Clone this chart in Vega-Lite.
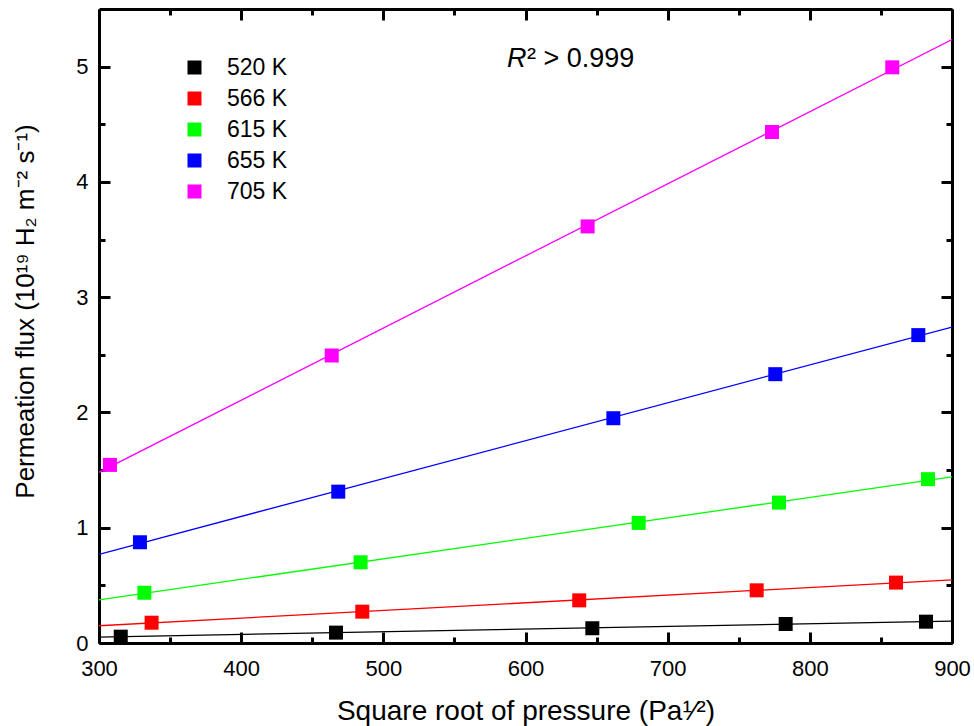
{
  "$schema": "https://vega.github.io/schema/vega-lite/v6.json",
  "width": 853,
  "height": 634,
  "autosize": "none",
  "padding": {"left": 99, "top": 9, "right": 22, "bottom": 83},
  "background": "white",
  "config": {
    "view": {"stroke": null},
    "axis": {"grid": false, "labelFont": "Liberation Sans", "titleFont": "Liberation Sans", "labelColor": "black", "titleColor": "black", "tickColor": "black", "domainColor": "black", "titleFontWeight": "normal", "tickWidth": 3, "domainWidth": 3, "labelFontSize": 22, "titleFontSize": 27},
    "legend": {"symbolType": "square", "symbolSize": 196, "symbolStrokeWidth": 0, "labelFont": "Liberation Sans", "labelFontSize": 23, "labelColor": "black", "labelOffset": 21, "rowPadding": 7, "padding": 0, "orient": "top-left", "offset": 0}
  },
  "datasets": {
    "flux": [
      {"T": "520 K", "x": 315.3, "y": 0.055},
      {"T": "520 K", "x": 466.7, "y": 0.09},
      {"T": "520 K", "x": 647.0, "y": 0.128},
      {"T": "520 K", "x": 783.0, "y": 0.165},
      {"T": "520 K", "x": 881.7, "y": 0.185},
      {"T": "566 K", "x": 337.0, "y": 0.176},
      {"T": "566 K", "x": 485.2, "y": 0.272},
      {"T": "566 K", "x": 637.8, "y": 0.37},
      {"T": "566 K", "x": 762.6, "y": 0.457},
      {"T": "566 K", "x": 860.6, "y": 0.524},
      {"T": "615 K", "x": 331.9, "y": 0.436},
      {"T": "615 K", "x": 484.0, "y": 0.70},
      {"T": "615 K", "x": 679.6, "y": 1.042},
      {"T": "615 K", "x": 778.3, "y": 1.218},
      {"T": "615 K", "x": 883.1, "y": 1.421},
      {"T": "655 K", "x": 328.8, "y": 0.874},
      {"T": "655 K", "x": 468.3, "y": 1.313},
      {"T": "655 K", "x": 661.8, "y": 1.95},
      {"T": "655 K", "x": 775.7, "y": 2.332},
      {"T": "655 K", "x": 876.3, "y": 2.671},
      {"T": "705 K", "x": 307.7, "y": 1.545},
      {"T": "705 K", "x": 463.7, "y": 2.494},
      {"T": "705 K", "x": 643.7, "y": 3.614},
      {"T": "705 K", "x": 773.4, "y": 4.433},
      {"T": "705 K", "x": 858.0, "y": 4.994}
    ]
  },
  "resolve": {"axis": {"x": "independent", "y": "independent"}},
  "layer": [
    {
      "data": {"name": "flux"},
      "mark": {"type": "point", "shape": "square", "filled": true, "size": 196, "opacity": 1},
      "encoding": {
        "x": {"field": "x", "type": "quantitative", "scale": {"domain": [300, 900], "nice": false, "zero": false},
              "axis": {"orient": "bottom", "values": [300, 400, 500, 600, 700, 800, 900], "tickSize": -11, "labelPadding": 26, "labelFlush": false,
                       "title": "Square root of pressure (Pa¹⁄²)", "titleFontSize": 28, "titleY": 76, "titleBaseline": "alphabetic"}},
        "y": {"field": "y", "type": "quantitative", "scale": {"domain": [0, 5.5], "nice": false, "zero": false},
              "axis": {"orient": "left", "values": [0, 1, 2, 3, 4, 5], "tickSize": -11, "labelPadding": 22, "labelFlush": false,
                       "title": "Permeation flux (10¹⁹ H₂ m⁻² s⁻¹)", "titleFontSize": 26, "titleAngle": 270, "titleX": -66, "titleY": 302, "titleAlign": "center", "titleBaseline": "alphabetic"}},
        "color": {"field": "T", "type": "nominal", "title": null,
                  "scale": {"domain": ["520 K", "566 K", "615 K", "655 K", "705 K"], "range": ["#000000", "#ff0000", "#00ff00", "#0000ff", "#ff00ff"]},
                  "legend": {"orient": "none", "legendX": 84, "legendY": 47}}
      }
    },
    {
      "data": {"name": "flux"},
      "transform": [{"regression": "y", "on": "x", "groupby": ["T"], "extent": [300, 900]}],
      "mark": {"type": "line", "strokeWidth": 1.3, "clip": true},
      "encoding": {
        "x": {"field": "x", "type": "quantitative",
              "axis": {"orient": "bottom", "values": [350, 450, 550, 650, 750, 850], "labels": false, "domain": false, "tickSize": -6, "title": null}},
        "y": {"field": "y", "type": "quantitative",
              "axis": {"orient": "left", "values": [0.5, 1.5, 2.5, 3.5, 4.5], "labels": false, "domain": false, "tickSize": -6, "title": null}},
        "stroke": {"field": "T", "type": "nominal", "legend": null,
                  "scale": {"domain": ["520 K", "566 K", "615 K", "655 K", "705 K"], "range": ["#000000", "#ff0000", "#00ff00", "#0000ff", "#ff00ff"]}}
      }
    },
    {
      "data": {"values": [{"x": 587, "y": 5.0, "label": "R"}]},
      "mark": {"type": "text", "font": "Liberation Sans", "fontSize": 27, "fontStyle": "italic", "align": "left", "baseline": "alphabetic", "color": "black"},
      "encoding": {
        "x": {"field": "x", "type": "quantitative",
              "axis": {"orient": "top", "values": [300, 400, 500, 600, 700, 800, 900], "labels": false, "tickSize": -11, "title": null}},
        "y": {"field": "y", "type": "quantitative",
              "axis": {"orient": "right", "values": [0, 1, 2, 3, 4, 5], "labels": false, "tickSize": -11, "title": null}},
        "text": {"field": "label"}
      }
    },
    {
      "data": {"values": [{"x": 601, "y": 5.0, "label": "² > 0.999"}]},
      "mark": {"type": "text", "font": "Liberation Sans", "fontSize": 27, "align": "left", "baseline": "alphabetic", "color": "black"},
      "encoding": {
        "x": {"field": "x", "type": "quantitative",
              "axis": {"orient": "top", "values": [350, 450, 550, 650, 750, 850], "labels": false, "domain": false, "tickSize": -6, "title": null}},
        "y": {"field": "y", "type": "quantitative",
              "axis": {"orient": "right", "values": [0.5, 1.5, 2.5, 3.5, 4.5], "labels": false, "domain": false, "tickSize": -6, "title": null}},
        "text": {"field": "label"}
      }
    }
  ]
}
